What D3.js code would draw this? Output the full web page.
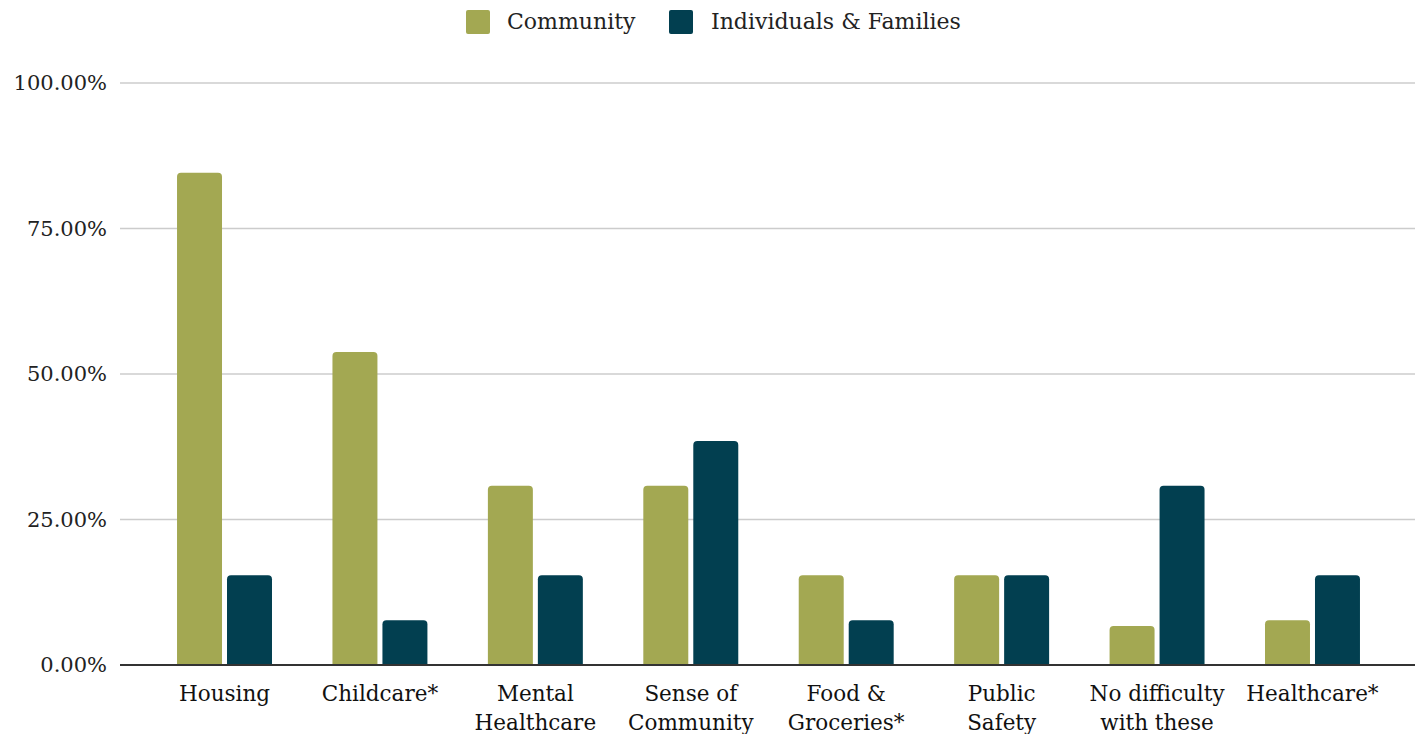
<!DOCTYPE html>
<html>
<head>
<meta charset="utf-8">
<script src="https://cdn.jsdelivr.net/npm/d3@7"></script>
<style>
  html, body { margin: 0; padding: 0; background: #fff; }
  svg { display: block; font-family: "DejaVu Serif", "Liberation Serif", serif; }
</style>
</head>
<body>
<svg id="chart" width="1422" height="734"></svg>
<script>
// Share of respondents naming each area as difficult
const categories = [
  ["Housing"],
  ["Childcare*"],
  ["Mental", "Healthcare"],
  ["Sense of", "Community"],
  ["Food &", "Groceries*"],
  ["Public", "Safety"],
  ["No difficulty", "with these"],
  ["Healthcare*"]
];
const seriesNames = ["Community", "Individuals & Families"];
const communityValues = [84.6, 53.8, 30.8, 30.8, 15.4, 15.4, 6.7, 7.7];
const individualsValues = [15.4, 7.7, 15.4, 38.5, 7.7, 15.4, 30.8, 15.4];
const yTicks = [0, 25, 50, 75, 100];
const colors = ["#a3a852", "#023f50"];

const svg = d3.select("#chart");
const plotLeft = 120, plotRight = 1415;
const y = d3.scaleLinear().domain([0, 100]).range([665, 83]);
const x0 = d3.scaleBand()
  .domain(d3.range(categories.length))
  .range([146.8, 1390.2])
  .paddingInner(0.389)
  .paddingOuter(0.1945);
const x1 = d3.scaleBand()
  .domain(d3.range(seriesNames.length))
  .range([0, x0.bandwidth()])
  .paddingInner(0.1);

// Horizontal gridlines
svg.append("g")
  .selectAll("line")
  .data(yTicks.filter(t => t > 0))
  .join("line")
  .attr("x1", plotLeft).attr("x2", plotRight)
  .attr("y1", d => y(d)).attr("y2", d => y(d))
  .attr("stroke", "#cccccc").attr("stroke-width", 1.5);

// Y axis labels
const yAxis = d3.axisLeft(y).tickValues(yTicks).tickSize(0).tickPadding(0)
  .tickFormat(d => d3.format(".2f")(d) + "%");
svg.append("g")
  .attr("transform", `translate(107,0)`)
  .call(yAxis)
  .call(g => g.select(".domain").remove())
  .call(g => g.selectAll("text")
    .attr("font-family", "DejaVu Serif, serif")
    .attr("font-size", 21)
    .attr("fill", "#222"));

// Bars with rounded tops
function barPath(x, w, yTop, yBase, r) {
  const h = yBase - yTop;
  const rr = Math.min(r, h, w / 2);
  return `M${x},${yBase} L${x},${yTop + rr} Q${x},${yTop} ${x + rr},${yTop}` +
    ` L${x + w - rr},${yTop} Q${x + w},${yTop} ${x + w},${yTop + rr} L${x + w},${yBase} Z`;
}
const seriesValues = [communityValues, individualsValues];
const groups = svg.append("g")
  .selectAll("g")
  .data(categories.map((c, i) => i))
  .join("g")
  .attr("transform", i => `translate(${x0(i)},0)`);
groups.selectAll("path")
  .data(i => seriesValues.map((vals, s) => ({ s, v: vals[i] })))
  .join("path")
  .attr("d", d => barPath(x1(d.s), x1.bandwidth(), y(d.v), y(0), 4))
  .attr("fill", d => colors[d.s]);

// Baseline
svg.append("line")
  .attr("x1", plotLeft).attr("x2", plotRight)
  .attr("y1", y(0)).attr("y2", y(0))
  .attr("stroke", "#333").attr("stroke-width", 2);

// Category labels
const xl = svg.append("g");
categories.forEach((lines, i) => {
  const t = xl.append("text")
    .attr("x", x0(i) + x0.bandwidth() / 2)
    .attr("y", 701)
    .attr("text-anchor", "middle")
    .attr("font-size", 21.5)
    .attr("fill", "#111");
  lines.forEach((ln, k) => {
    t.append("tspan")
      .attr("x", x0(i) + x0.bandwidth() / 2)
      .attr("dy", k === 0 ? 0 : 29)
      .text(ln);
  });
});

// Legend
const legend = svg.append("g");
const legendItems = [{ x: 466, tx: 507 }, { x: 669, tx: 711 }];
seriesNames.forEach((name, s) => {
  legend.append("rect")
    .attr("x", legendItems[s].x).attr("y", 10)
    .attr("width", 24).attr("height", 24).attr("rx", 2)
    .attr("fill", colors[s]);
  legend.append("text")
    .attr("x", legendItems[s].tx).attr("y", 29)
    .attr("font-size", 22)
    .attr("fill", "#222")
    .text(name);
});
</script>
</body>
</html>
